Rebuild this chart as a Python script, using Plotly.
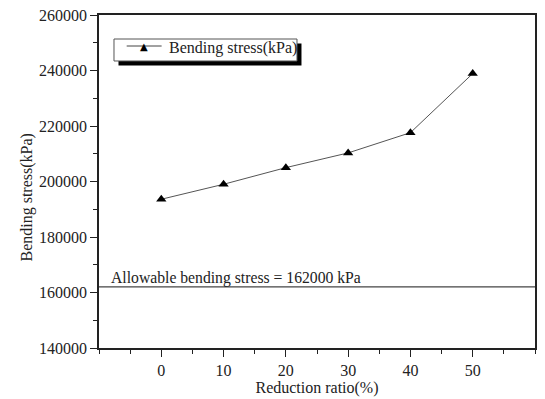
import plotly.graph_objects as go

reduction_ratio = [0, 10, 20, 30, 40, 50]
bending_stress = [193600, 199000, 205000, 210300, 217600, 238900]
allowable_stress = 162000
series_name = "Bending stress(kPa)"
x_ticks = [0, 10, 20, 30, 40, 50]
y_ticks = [140000, 160000, 180000, 200000, 220000, 240000, 260000]

FONT = "Liberation Serif"
TXT = "#222222"

fig = go.Figure()
fig.add_trace(go.Scatter(
    x=reduction_ratio, y=bending_stress, mode="lines+markers",
    name=series_name, showlegend=False,
    line=dict(color="#555555", width=1),
    marker=dict(symbol="triangle-up", size=9, color="black"),
))

fig.add_shape(type="line", xref="paper", x0=0, x1=1, yref="y",
              y0=allowable_stress, y1=allowable_stress,
              line=dict(color="#444444", width=1.2))
fig.add_annotation(xref="paper", x=0.022, yref="y", y=allowable_stress,
                   text=f"Allowable bending stress = {allowable_stress} kPa",
                   showarrow=False, xanchor="left", yanchor="bottom", yshift=-2,
                   font=dict(family=FONT, size=15.7, color=TXT))

# hand-drawn legend box with drop shadow
fig.add_shape(type="rect", xref="paper", yref="paper",
              x0=0.0447, x1=0.4644, y0=0.8483, y1=0.9144,
              fillcolor="black", line=dict(width=0), layer="above")
fig.add_shape(type="rect", xref="paper", yref="paper",
              x0=0.0344, x1=0.4541, y0=0.8619, y1=0.9279,
              fillcolor="white", line=dict(color="#555555", width=1), layer="above")
fig.add_shape(type="line", xref="paper", yref="paper",
              x0=0.0635, x1=0.1436, y0=0.9069, y1=0.9069,
              line=dict(color="#444444", width=1), layer="above")
fig.add_annotation(xref="paper", yref="paper", x=0.1032, y=0.9069,
                   text="▲", showarrow=False, xanchor="center", yanchor="middle",
                   font=dict(family="DejaVu Sans", size=10, color="black"))
fig.add_annotation(xref="paper", yref="paper", x=0.156, y=0.8994,
                   text=series_name, showarrow=False, xanchor="left", yanchor="middle",
                   font=dict(family=FONT, size=16, color=TXT))

# y-axis title (placed slightly below centre as in the reference)
fig.add_annotation(xref="paper", yref="paper", x=-0.165, y=0.452,
                   text="Bending stress(kPa)", textangle=-90, showarrow=False,
                   xanchor="center", yanchor="middle",
                   font=dict(family=FONT, size=16, color=TXT))

axis_common = dict(
    showline=True, linecolor="#222222", linewidth=1.5, mirror=True,
    ticks="outside", ticklen=7, tickwidth=1.2, tickcolor="#222222",
    showgrid=False, zeroline=False, automargin=False,
    tickfont=dict(family=FONT, size=16, color=TXT),
)

fig.update_xaxes(range=[-10, 60], tickvals=x_ticks,
                 title=dict(text="Reduction ratio(%)", font=dict(family=FONT, size=16, color=TXT), standoff=0),
                 minor=dict(dtick=5, ticks="outside", ticklen=4, tickwidth=1.2, tickcolor="#222222"),
                 **axis_common)
fig.update_yaxes(range=[140000, 260000], tickvals=y_ticks, tickformat="d",
                 minor=dict(dtick=10000, ticks="outside", ticklen=4, tickwidth=1.2, tickcolor="#222222"),
                 **axis_common)

fig.update_layout(
    width=545, height=399,
    margin=dict(l=99, r=10, t=15, b=51),
    plot_bgcolor="white", paper_bgcolor="white",
    showlegend=False,
    font=dict(family=FONT),
)

fig.write_html("out.html", config={"displayModeBar": False},
               post_script="document.body.style.margin='0';document.body.style.overflow='hidden';")
